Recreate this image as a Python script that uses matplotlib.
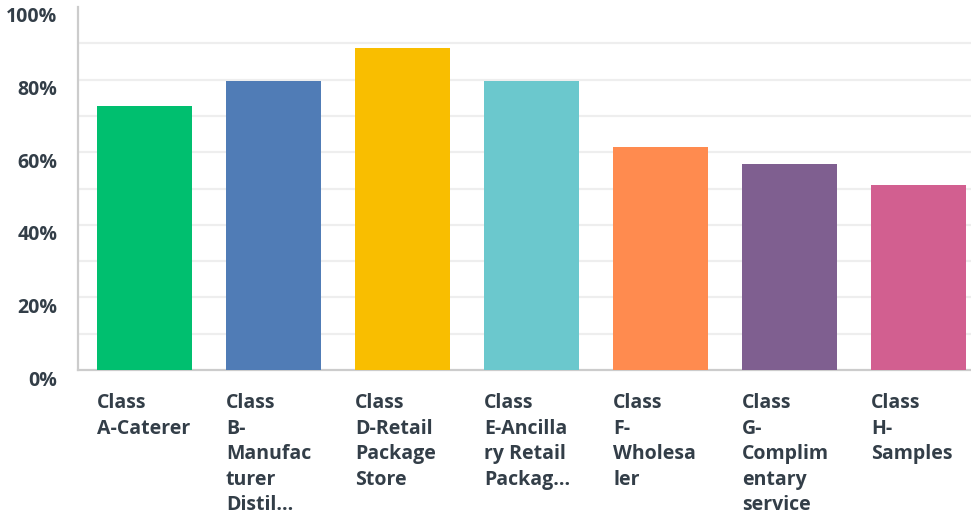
import matplotlib

matplotlib.use("Agg")

import matplotlib.pyplot as plt
import matplotlib.transforms as mtransforms

categories = [
    "Class\nA-Caterer",
    "Class\nB-\nManufac\nturer\nDistil...",
    "Class\nD-Retail\nPackage\nStore",
    "Class\nE-Ancilla\nry Retail\nPackag...",
    "Class\nF-\nWholesa\nler",
    "Class\nG-\nComplim\nentary\nservice",
    "Class\nH-\nSamples",
]
values = [72.7, 79.5, 88.6, 79.5, 61.4, 56.8, 51.1]
colors = ["#00bf6f", "#507cb6", "#f9be00", "#6bc8cd", "#ff8b4f", "#7f5f90", "#d25f90"]
yticks = [0, 20, 40, 60, 80, 100]
ytick_labels = ["0%", "20%", "40%", "60%", "80%", "100%"]

text_color = "#333e48"
font = "Open Sans"

fig = plt.figure(figsize=(9.71, 5.14), dpi=100)
ax = fig.add_axes([78 / 971, 144 / 514, 1 - 78 / 971, 363 / 514])

bar_width = 0.736
xs = list(range(len(values)))
ax.bar(xs, values, width=bar_width, color=colors, zorder=3)

ax.set_ylim(0, 100)
ax.set_xlim(-0.515, 6.407)

# light horizontal grid every 10%
for g in range(10, 100, 10):
    ax.axhline(g, color="#eeeeee", linewidth=1.6, zorder=1)

for side in ["top", "right"]:
    ax.spines[side].set_visible(False)
for side in ["left", "bottom"]:
    ax.spines[side].set_color("#cccccc")
    ax.spines[side].set_linewidth(1.6)

ax.set_xticks([])
ax.set_yticks(yticks)
ax.set_yticklabels(ytick_labels)
ax.tick_params(axis="y", length=0, pad=15)
shift = mtransforms.ScaledTranslation(0, -8 / 100, fig.dpi_scale_trans)
for lbl in ax.get_yticklabels():
    lbl.set_fontfamily(font)
    lbl.set_fontweight("bold")
    lbl.set_fontsize(14)
    lbl.set_color(text_color)
    lbl.set_transform(lbl.get_transform() + shift)

# category labels, left aligned under each bar
trans = mtransforms.blended_transform_factory(ax.transData, ax.transAxes)
for x, label in zip(xs, categories):
    ax.text(
        x - bar_width / 2, -23 / 363, label,
        transform=trans, ha="left", va="top",
        fontsize=14, fontfamily=font, fontweight="bold",
        color=text_color, linespacing=1.37,
    )

fig.savefig("out.png", dpi=100)
